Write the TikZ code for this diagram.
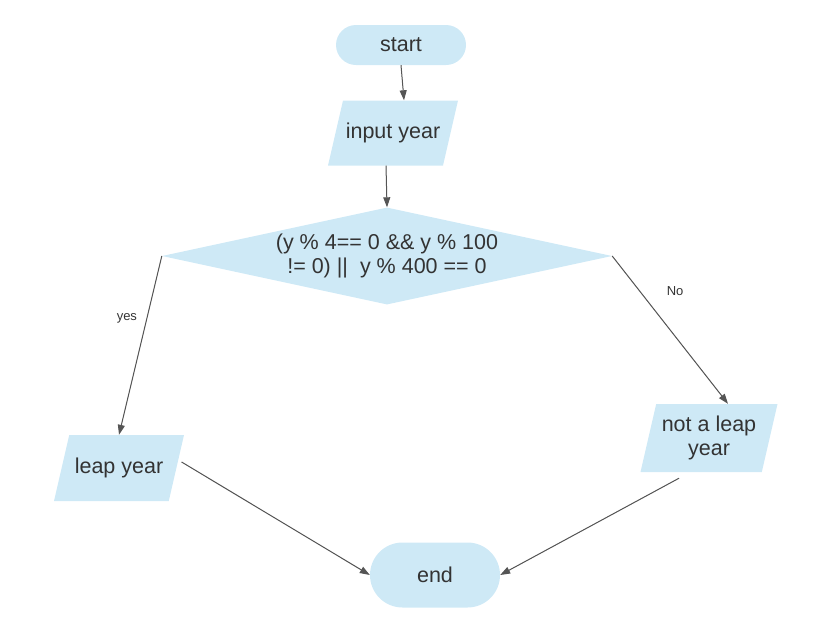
\documentclass[tikz,border=0pt]{standalone}
\usepackage{fontspec}
\setmainfont{Liberation Sans}
\usetikzlibrary{shapes.geometric, shapes.misc, arrows.meta, positioning}
\definecolor{boxfill}{RGB}{206,233,246}
\definecolor{inktext}{RGB}{51,51,51}
\definecolor{inkline}{RGB}{85,85,85}
\begin{document}
\begin{tikzpicture}[
		x=1pt, y=-1pt,
		>={Triangle[length=10pt, width=7pt]},
		terminal/.style={rounded rectangle, fill=boxfill, text=inktext,
			minimum width=130pt, inner sep=0pt, font=\fontsize{21.5}{24}\selectfont},
		io/.style={trapezium, trapezium left angle=77, trapezium right angle=103,
			trapezium stretches body=true, fill=boxfill, text=inktext,
			inner xsep=0pt, text height=15pt, text depth=5pt,
			align=center, font=\fontsize{21.5}{24}\selectfont},
		decision/.style={diamond, shape aspect=4.6, fill=boxfill, text=inktext,
			minimum width=450pt, minimum height=97pt, inner sep=0pt,
			align=center, font=\fontsize{21.5}{24}\selectfont},
		arr/.style={->, draw=inkline, fill=inkline, line width=1pt},
		lbl/.style={text=inktext, font=\fontsize{13}{15}\selectfont},
	]
		\useasboundingbox (0,0) rectangle (829,627);

		% terminals
		\node[terminal, minimum height=40pt] (start) at (401,45) {start};
		\node[terminal, minimum height=65pt] (end) at (435,575) {end};

		% input / output
		\node[io, minimum width=130pt, inner ysep=22.5pt] (inp) at (393,133) {input year};
		\node[io, minimum width=130pt, inner ysep=23pt] (leap) at (119,468) {leap year};
		\node[io, minimum width=137pt, text height=39pt, inner ysep=12pt] (notleap) at (709,438) {not a leap\\year};

		% test
		\node[decision] (test) at (387,256) {(y \% 4== 0 \&\& y \% 100\\!= 0) ||\ \ y \% 400 == 0};

		% arrows
		\draw[arr] (start.south) -- ([xshift=11pt]inp.north);
		\draw[arr] ([xshift=-7pt]inp.south) -- (test.north);
		\draw[arr] (test.west) -- node[lbl, pos=0.35, left=6pt] {yes} (leap.north);
		\draw[arr] (test.east) -- node[lbl, pos=0.24, right=23pt] {No} ([xshift=19pt]notleap.north);
		\draw[arr] ([xshift=5pt, yshift=6pt]leap.east) -- (end.west);
		\draw[arr] ([xshift=-30pt, yshift=-6pt]notleap.south) -- (end.east);
	\end{tikzpicture}
\end{document}
